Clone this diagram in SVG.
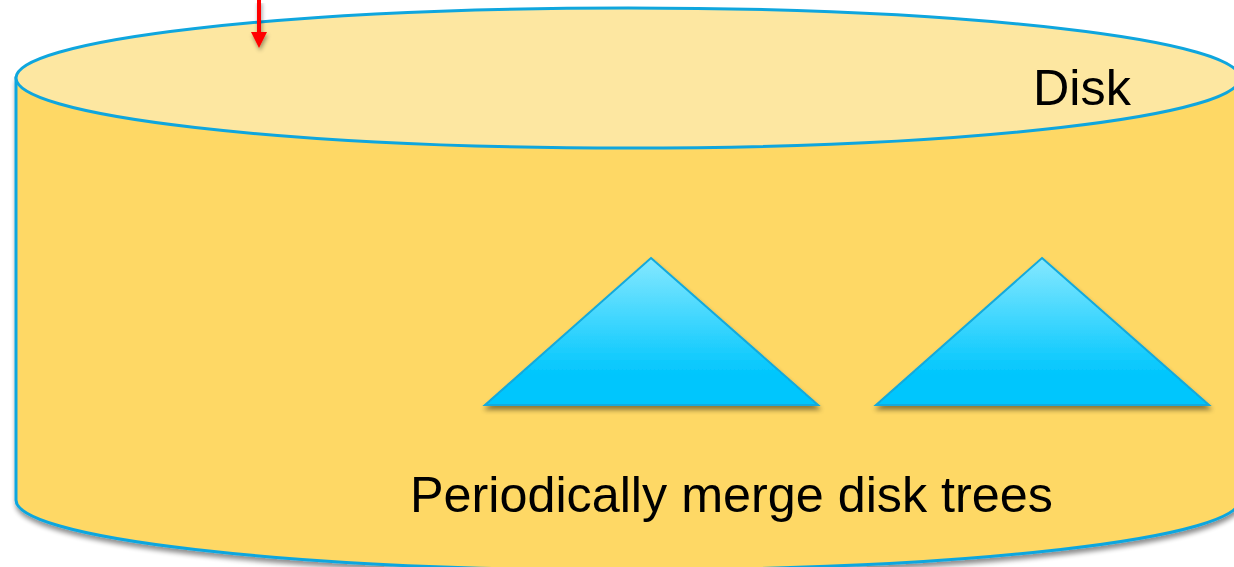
<svg xmlns="http://www.w3.org/2000/svg" width="1234" height="567" viewBox="0 0 1234 567">
<defs>
<linearGradient id="tri" x1="0" y1="0" x2="0" y2="1">
<stop offset="0" stop-color="#85e8ff"/>
<stop offset="0.8" stop-color="#00c6fd"/>
<stop offset="1" stop-color="#00c6fd"/>
</linearGradient>
<filter id="sh" x="-10%" y="-10%" width="120%" height="130%">
<feGaussianBlur in="SourceAlpha" stdDeviation="2.5"/>
<feOffset dx="1" dy="4" result="b"/>
<feComponentTransfer><feFuncA type="linear" slope="0.45"/></feComponentTransfer>
<feMerge><feMergeNode/><feMergeNode in="SourceGraphic"/></feMerge>
</filter>
<filter id="sh2" filterUnits="userSpaceOnUse" x="240" y="0" width="40" height="70">
<feGaussianBlur in="SourceAlpha" stdDeviation="2"/>
<feOffset dx="1" dy="3" result="b"/>
<feComponentTransfer><feFuncA type="linear" slope="0.4"/></feComponentTransfer>
<feMerge><feMergeNode/><feMergeNode in="SourceGraphic"/></feMerge>
</filter>
<marker id="ah" markerWidth="4" markerHeight="4" refX="2" refY="2" orient="auto" markerUnits="strokeWidth">
<path d="M0,0 L4,2 L0,4 Z" fill="#ff0000"/>
</marker>
<style>
.outline{stroke:#0fa6de;stroke-width:3}
.lbl{font-family:"Liberation Sans",Arial,sans-serif;font-size:50.3px;fill:#000}
.tri{fill:url(#tri);stroke:#12a9dc;stroke-width:2}
</style>
</defs>
<g id="disk">
<path class="outline" filter="url(#sh)" d="M16,78 L16,500 A612,70 0 0 0 1240,500 L1240,78 Z" fill="#fed865"/>
<ellipse class="outline" cx="628" cy="78" rx="612" ry="70" fill="#fde7a1"/>
<text class="lbl" x="1033" y="105">Disk</text>
</g>
<g id="tree1">
<polygon class="tri" filter="url(#sh)" points="651,258 818,405 485,405"/>
</g>
<g id="tree2">
<polygon class="tri" filter="url(#sh)" points="1042,258 1209,405 876,405"/>
</g>
<g id="label">
<text class="lbl" x="410" y="512">Periodically merge disk trees</text>
</g>
<g id="connectors">
<line x1="259" y1="0" x2="259" y2="40" stroke="#ff0000" stroke-width="4" marker-end="url(#ah)" filter="url(#sh2)"/>
</g>
</svg>
